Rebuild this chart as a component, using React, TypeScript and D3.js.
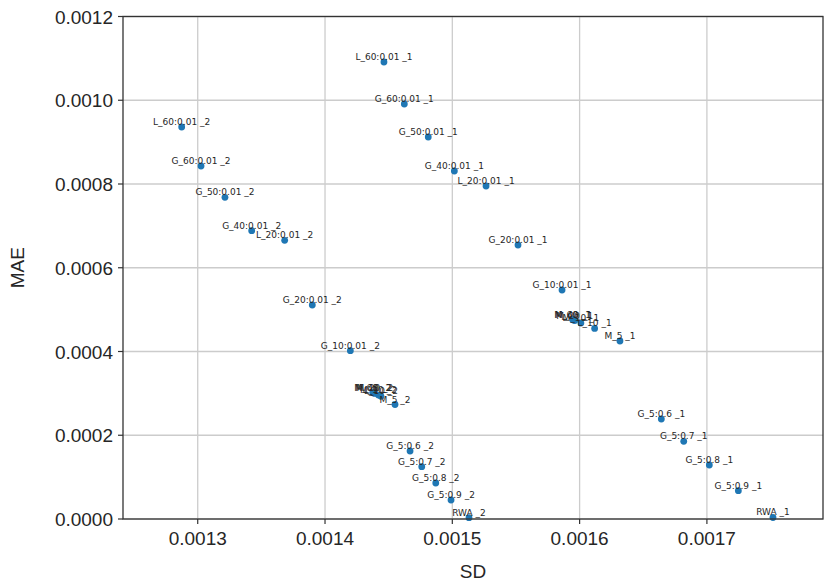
import React from "react";
import * as d3 from "d3";

// Configuration names; each appears twice, as " _1" and " _2".
const names1 = [
  "L_60:0.01", "G_60:0.01", "G_50:0.01", "G_40:0.01", "L_20:0.01", "G_20:0.01", "G_10:0.01",
  "M_60", "M_40", "M_20", "M_10", "L_10", "M_5",
  "G_5:0.6", "G_5:0.7", "G_5:0.8", "G_5:0.9", "RWA",
];
const sd1 = [
  0.0014463, 0.0014623, 0.0014811, 0.0015016, 0.0015265, 0.0015516, 0.0015862,
  0.0015945, 0.0015952, 0.0015962, 0.0016010, 0.0016118, 0.0016317,
  0.0016642, 0.0016818, 0.0017019, 0.0017247, 0.0017519,
];
const mae1 = [
  0.0010913, 0.000991, 0.0009122, 0.000831, 0.0007952, 0.0006543, 0.0005469,
  0.0004762, 0.0004752, 0.0004738, 0.0004680, 0.0004550, 0.0004251,
  0.0002388, 0.0001856, 0.000129, 0.0000676, 0.0000036,
];
const sd2 = [
  0.0012874, 0.0013026, 0.0013214, 0.0013424, 0.0013683, 0.00139, 0.0014199,
  0.0014375, 0.0014382, 0.0014392, 0.0014420, 0.0014440, 0.001455,
  0.0014668, 0.001476, 0.001487, 0.001499, 0.0015131,
];
const mae2 = [
  0.0009361, 0.000843, 0.0007682, 0.0006885, 0.0006656, 0.000511, 0.0004019,
  0.0003020, 0.0003010, 0.0002998, 0.0002960, 0.0002930, 0.0002734,
  0.0001624, 0.0001249, 0.000086, 0.0000454, 0.0000031,
];

const xTicks = [0.0013, 0.0014, 0.0015, 0.0016, 0.0017];
const yTicks = [0, 0.0002, 0.0004, 0.0006, 0.0008, 0.001, 0.0012];

const W = 824;
const H = 581;
const M = { left: 123, right: 1, top: 16.5, bottom: 62 };

type Pt = { label: string; sd: number; mae: number };

const points: Pt[] = [
  ...names1.map((n, i) => ({ label: `${n} _1`, sd: sd1[i], mae: mae1[i] })),
  ...names1.map((n, i) => ({ label: `${n} _2`, sd: sd2[i], mae: mae2[i] })),
];

export default function App() {
  const x = d3
    .scaleLinear()
    .domain([0.0012413, 0.0017912])
    .range([M.left, W - M.right]);
  const y = d3
    .scaleLinear()
    .domain([0, 0.0012])
    .range([H - M.bottom, M.top]);

  const x0 = M.left;
  const x1 = W - M.right;
  const y0 = H - M.bottom;
  const y1 = M.top;
  const tickFont = "'Liberation Sans', Arial, sans-serif";

  return (
    <svg
      width={W}
      height={H}
      style={{ position: "absolute", left: 0, top: 0, background: "#fff" }}
    >
      {/* grid */}
      <g stroke="#cccccc" strokeWidth={1.3}>
        {xTicks.map((t) => (
          <line key={`gx${t}`} x1={x(t)} x2={x(t)} y1={y0} y2={y1} />
        ))}
        {yTicks.map((t) => (
          <line key={`gy${t}`} x1={x0} x2={x1} y1={y(t)} y2={y(t)} />
        ))}
      </g>

      {/* points */}
      <g fill="#1f77b4">
        {points.map((p) => (
          <circle key={`c${p.label}`} cx={x(p.sd)} cy={y(p.mae)} r={3.4} />
        ))}
      </g>

      {/* point labels */}
      <g
        fontFamily="'DejaVu Sans', sans-serif"
        fontSize={9}
        fill="#262626"
        textAnchor="middle"
      >
        {points.map((p) => (
          <text key={`t${p.label}`} x={x(p.sd)} y={y(p.mae) - 2}>
            {p.label}
          </text>
        ))}
      </g>

      {/* frame */}
      <rect
        x={x0}
        y={y1}
        width={x1 - x0}
        height={y0 - y1}
        fill="none"
        stroke="#333333"
        strokeWidth={1.3}
      />

      {/* x axis */}
      <g fontFamily={tickFont} fontSize={19} fill="#262626" textAnchor="middle">
        {xTicks.map((t) => (
          <g key={`xt${t}`}>
            <line x1={x(t)} x2={x(t)} y1={y0} y2={y0 + 5} stroke="#333333" strokeWidth={1.2} />
            <text x={x(t)} y={y0 + 26}>
              {d3.format(".4f")(t)}
            </text>
          </g>
        ))}
        <text x={(x0 + x1) / 2} y={H - 3}>
          SD
        </text>
      </g>

      {/* y axis */}
      <g fontFamily={tickFont} fontSize={19} fill="#262626" textAnchor="end">
        {yTicks.map((t) => (
          <g key={`yt${t}`}>
            <line x1={x0 - 5} x2={x0} y1={y(t)} y2={y(t)} stroke="#333333" strokeWidth={1.2} />
            <text x={x0 - 10} y={y(t) + 7}>
              {d3.format(".4f")(t)}
            </text>
          </g>
        ))}
        <text
          transform={`translate(${24},${(y0 + y1) / 2}) rotate(-90)`}
          textAnchor="middle"
        >
          MAE
        </text>
      </g>
    </svg>
  );
}
